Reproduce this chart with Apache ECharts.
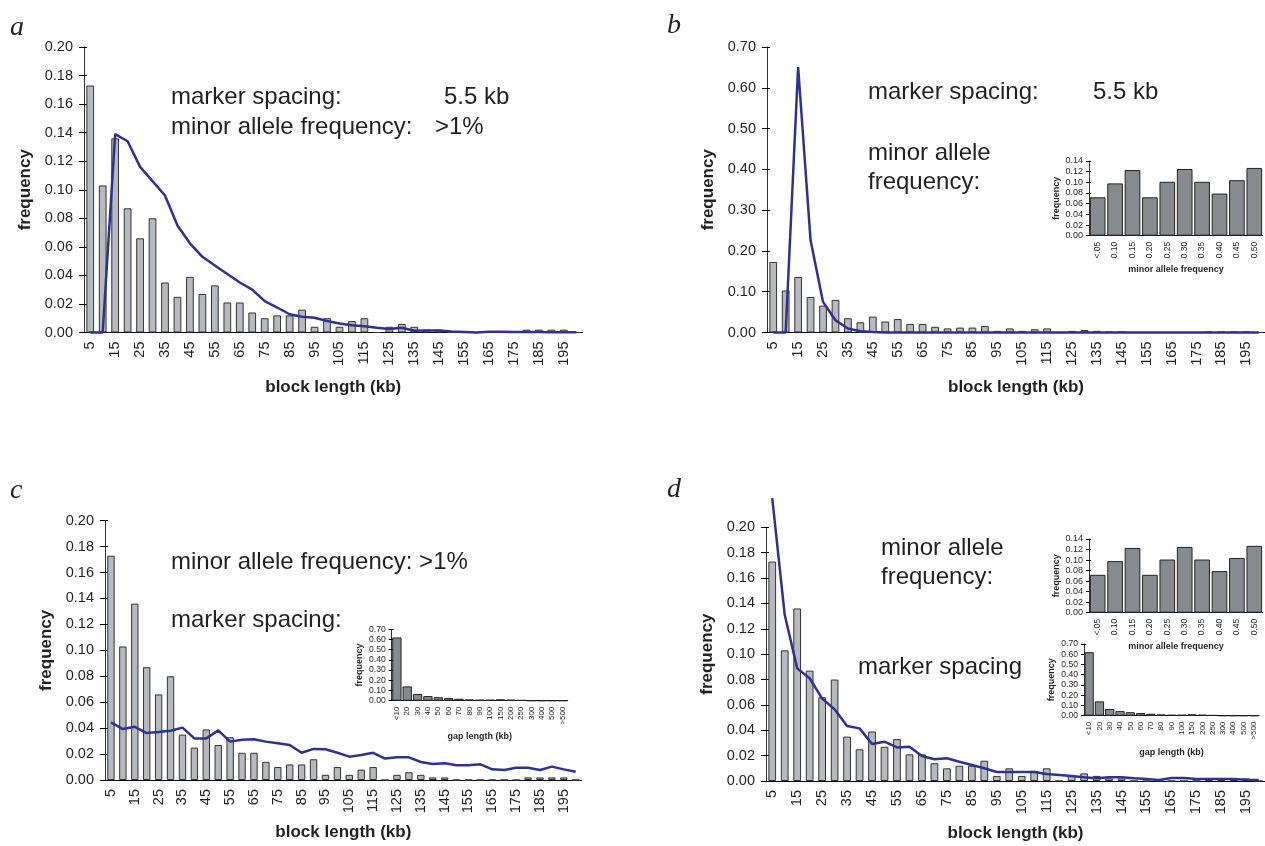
<!DOCTYPE html>
<html>
<head>
<meta charset="utf-8">
<script src="https://cdn.jsdelivr.net/npm/echarts@6/dist/echarts.min.js"></script>
<style>
  html, body { margin: 0; padding: 0; background: #fff; }
  #chart { width: 1265px; height: 846px; }
</style>
</head>
<body>
<div id="chart"></div>
<script>
// block length categories (kb)
var blockLen = ['5','10','15','20','25','30','35','40','45','50',
  '55','60','65','70','75','80','85','90','95','100',
  '105','110','115','120','125','130','135','140','145','150',
  '155','160','165','170','175','180','185','190','195','200'];

// observed block length frequencies (same bars in all four panels)
var observed = [0.173,0.103,0.136,0.087,0.066,0.080,0.035,0.025,0.039,0.027,
  0.033,0.021,0.021,0.014,0.010,0.012,0.012,0.016,0.004,0.010,
  0.004,0.008,0.010,0,0.004,0.006,0.004,0.002,0.002,0,
  0,0,0,0,0,0.002,0.002,0.002,0.002,0];

// simulated curves
var simA = [0,0,0.139,0.134,0.116,0.106,0.096,0.075,0.0625,0.053,
  0.047,0.041,0.035,0.030,0.022,0.0175,0.0128,0.011,0.0103,0.008,
  0.0063,0.0051,0.0044,0.0033,0.0024,0.0033,0.0012,0.0014,0.0014,0.0007,
  0.0004,0,0.0005,0.0005,0.0004,0.0003,0.0003,0.0002,0.0002,0.0002];
var simB = [0,0,0.651,0.226,0.075,0.030,0.010,0.003,0.001,0,
  0,0,0,0,0,0,0,0,0,0,
  0,0,0,0,0,0,0,0,0,0,
  0,0,0,0,0,0,0,0,0,0];
var simC = [0.0445,0.0393,0.041,0.0362,0.037,0.038,0.0404,0.0321,0.0321,0.0383,
  0.0296,0.0311,0.0314,0.0296,0.0283,0.027,0.021,0.024,0.0237,0.021,
  0.018,0.0193,0.021,0.0165,0.0175,0.0175,0.0139,0.0123,0.0129,0.0113,
  0.0113,0.0121,0.0082,0.0077,0.0095,0.0095,0.0077,0.0103,0.0082,0.0064];
var simD = [0.223,0.131,0.0888,0.081,0.065,0.0565,0.0434,0.0415,0.0292,0.031,
  0.0265,0.027,0.0197,0.0171,0.0179,0.0152,0.0126,0.010,0.0071,0.0071,
  0.0071,0.0071,0.0055,0.0047,0.0039,0.0029,0.0021,0.0029,0.0029,0.0021,
  0.0016,0.0008,0.0024,0.0024,0.0016,0.0016,0.0016,0.0016,0.001,0.0008];

// inset: minor allele frequency distribution
var mafCats = ['<.05','0.10','0.15','0.20','0.25','0.30','0.35','0.40','0.45','0.50'];
var mafFreq = [0.072,0.098,0.123,0.072,0.101,0.125,0.101,0.079,0.104,0.127];

// inset: gap length distribution
var gapCats = ['<10','20','30','40','50','60','70','80','90','100','150','200','250','300','400','500','>500'];
var gapFreq = [0.62,0.14,0.066,0.045,0.034,0.026,0.019,0.012,0.009,0.009,0.013,0.009,0.006,0,0,0,0];

var FONT = '"Liberation Sans", Arial, Helvetica, sans-serif';
var INK = '#231f20';
var BLUE = '#2e3192';

var grids = [], xAxes = [], yAxes = [], series = [];

// one grid with a category x axis and a value y axis; ticks cross the axis lines
function addPanel(rect, cats, o) {
  var g = grids.length;
  grids.push({left: rect[0], top: rect[1], width: rect[2], height: rect[3], containLabel: false});
  var xi = xAxes.length, yi = yAxes.length;
  xAxes.push({
    gridIndex: g, type: 'category', data: cats, position: 'bottom',
    axisLine: {lineStyle: {color: '#000', width: 1}},
    axisTick: {interval: 0, length: o.tickOut, lineStyle: {color: '#000'}},
    axisLabel: {interval: o.xLabelInterval, rotate: 90, fontSize: o.xFont, margin: o.xMargin,
      color: INK, fontFamily: FONT},
    name: o.xName, nameLocation: 'middle', nameGap: o.xNameGap,
    nameTextStyle: {fontSize: o.nameFont, fontWeight: 'bold', color: INK, fontFamily: FONT}
  });
  xAxes.push({
    gridIndex: g, type: 'category', data: cats, position: 'bottom',
    axisLine: {show: false},
    axisTick: {interval: 0, inside: true, length: o.tickIn, lineStyle: {color: '#000'}},
    axisLabel: {show: false}
  });
  yAxes.push({
    gridIndex: g, type: 'value', min: 0, max: o.yMax, interval: o.yStep, position: 'left',
    axisLine: {show: true, lineStyle: {color: '#333', width: 1}},
    axisTick: {show: true, length: o.tickOut, lineStyle: {color: '#000'}},
    splitLine: {show: false},
    axisLabel: {fontSize: o.yFont, margin: o.yMargin, color: INK, fontFamily: FONT,
      formatter: function (v) { return v.toFixed(2); }},
    name: 'frequency', nameLocation: 'middle', nameRotate: 90, nameGap: o.yNameGap,
    nameTextStyle: {fontSize: o.nameFont, fontWeight: 'bold', color: INK, fontFamily: FONT}
  });
  yAxes.push({
    gridIndex: g, type: 'value', min: 0, max: o.yMax, interval: o.yStep, position: 'left',
    axisLine: {show: false},
    axisTick: {show: true, inside: true, length: o.tickIn, lineStyle: {color: '#000'}},
    splitLine: {show: false},
    axisLabel: {show: false}
  });
  return {x: xi, y: yi};
}

var mainOpts = {
  xLabelInterval: 1, xFont: 14.5, xMargin: 9, yFont: 14.5, yMargin: 11,
  xName: 'block length (kb)', xNameGap: 46, yNameGap: 50, nameFont: 17,
  tickOut: 5, tickIn: 3, yMax: 0.2, yStep: 0.02
};
function withOpts(base, extra) {
  var r = {};
  for (var k in base) r[k] = base[k];
  for (var j in extra) r[j] = extra[j];
  return r;
}

function addBlockSeries(ax, sim) {
  series.push({
    type: 'bar', xAxisIndex: ax.x, yAxisIndex: ax.y, data: observed,
    barCategoryGap: '38%',
    itemStyle: {color: '#b6babe', borderColor: '#333', borderWidth: 1}
  });
  series.push({
    type: 'line', xAxisIndex: ax.x, yAxisIndex: ax.y, data: sim,
    symbol: 'none', clip: false, z: 5,
    lineStyle: {color: BLUE, width: 2.5}
  });
}

var insetOpts = {
  xLabelInterval: 0, xFont: 8.5, xMargin: 6, yFont: 9, yMargin: 6,
  xNameGap: 29, yNameGap: 28, nameFont: 9,
  tickOut: 3, tickIn: 2
};
function addInset(rect, cats, vals, extra) {
  var ax = addPanel(rect, cats, withOpts(insetOpts, extra));
  series.push({
    type: 'bar', xAxisIndex: ax.x, yAxisIndex: ax.y, data: vals,
    barCategoryGap: '10%',
    itemStyle: {color: '#878b8f', borderColor: '#222', borderWidth: 1}
  });
}

// main panels
addBlockSeries(addPanel([84, 47, 498.5, 285.5], blockLen, mainOpts), simA);
addBlockSeries(addPanel([767, 47, 500, 285.5], blockLen,
  withOpts(mainOpts, {yMax: 0.7, yStep: 0.1})), simB);
addBlockSeries(addPanel([105, 520.7, 476.7, 259.3], blockLen,
  withOpts(mainOpts, {xNameGap: 44})), simC);
addBlockSeries(addPanel([766, 527.3, 500, 253.7], blockLen,
  withOpts(mainOpts, {xNameGap: 44})), simD);

// insets
addInset([1089, 161, 174, 74.7], mafCats, mafFreq,
  {yMax: 0.14, yStep: 0.02, xName: 'minor allele frequency'});
addInset([391.7, 629.3, 176, 71.4], gapCats, gapFreq,
  {yMax: 0.7, yStep: 0.1, xName: 'gap length (kb)', xFont: 8, yFont: 8.6, xNameGap: 31});
addInset([1089, 539, 174, 73.7], mafCats, mafFreq,
  {yMax: 0.14, yStep: 0.02, xName: 'minor allele frequency'});
addInset([1084, 644, 175, 71.7], gapCats, gapFreq,
  {yMax: 0.7, yStep: 0.1, xName: 'gap length (kb)', xFont: 8, yFont: 8.6, xNameGap: 32});

// annotation texts
var notes = [
  ['marker spacing:', 171, 97], ['5.5 kb', 444, 97],
  ['minor allele frequency:', 171, 127], ['>1%', 435, 127],
  ['marker spacing:', 868, 92], ['5.5 kb', 1093, 92],
  ['minor allele', 868, 153], ['frequency:', 868, 182],
  ['minor allele frequency: >1%', 171, 562], ['marker spacing:', 171, 620],
  ['minor allele', 881, 548], ['frequency:', 881, 577],
  ['marker spacing', 858, 667]
];
var letters = [['a', 10, 28], ['b', 667, 26], ['c', 10, 491], ['d', 667, 490]];

var graphic = [];
notes.forEach(function (n) {
  graphic.push({type: 'text', x: n[1], y: n[2], silent: true,
    style: {text: n[0], font: '24px ' + FONT, fill: INK, verticalAlign: 'middle'}});
});
letters.forEach(function (n) {
  graphic.push({type: 'text', x: n[1], y: n[2], silent: true,
    style: {text: n[0], font: 'italic 28px "Liberation Serif", "Times New Roman", serif',
      fill: INK, verticalAlign: 'middle'}});
});

var myChart = echarts.init(document.getElementById('chart'));
myChart.setOption({
  animation: false,
  backgroundColor: '#fff',
  grid: grids,
  xAxis: xAxes,
  yAxis: yAxes,
  series: series,
  graphic: graphic
});
</script>
</body>
</html>
